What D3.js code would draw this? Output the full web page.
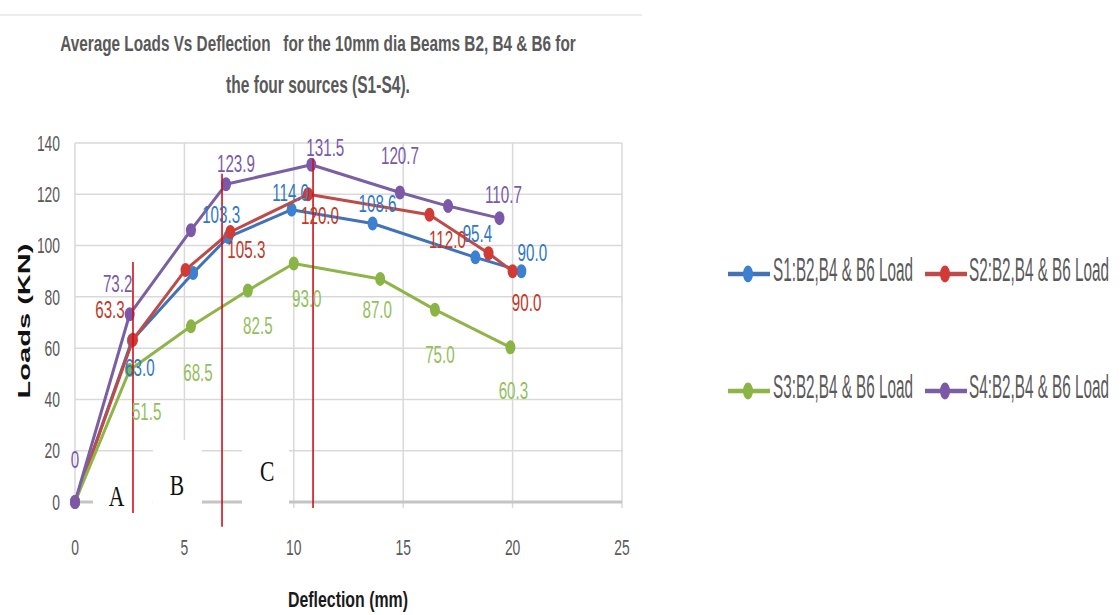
<!DOCTYPE html>
<html><head><meta charset="utf-8">
<script src="https://cdn.jsdelivr.net/npm/d3@7"></script>
<style>body{margin:0;background:#fff} svg{display:block}</style>
</head><body><svg id="c" width="1120" height="615"></svg>
<script>
// ---------- data ----------
const titleLines = ["Average Loads Vs Deflection   for the 10mm dia Beams B2, B4 & B6 for", "the four sources (S1-S4)."];
const xAxisTitle = "Deflection (mm)";
const yAxisTitle = "Loads (KN)";
const xTicks = [0, 5, 10, 15, 20, 25];
const yTicks = [0, 20, 40, 60, 80, 100, 120, 140];
const seriesNames = ["S1:B2,B4 & B6 Load", "S2:B2,B4 & B6 Load", "S3:B2,B4 & B6 Load", "S4:B2,B4 & B6 Load"];

const s1Deflection = [0, 2.6, 5.4, 7.0, 9.9, 13.6, 18.3, 20.4];
const s1Load       = [0, 63.0, 89.3, 103.3, 114.0, 108.6, 95.4, 90.0];
const s1Labels     = [null, "63.0", null, "103.3", "114.0", "108.6", "95.4", "90.0"];

const s2Deflection = [0, 2.65, 5.05, 7.1, 10.65, 16.2, 18.9, 20.0];
const s2Load       = [0, 63.3, 90.5, 105.3, 120.0, 112.0, 97.0, 90.0];
const s2Labels     = [null, "63.3", null, "105.3", "120.0", "112.0", null, "90.0"];

const s3Deflection = [0, 2.5, 5.3, 7.9, 10.0, 13.95, 16.45, 19.9];
const s3Load       = [0, 51.5, 68.5, 82.5, 93.0, 87.0, 75.0, 60.3];
const s3Labels     = [null, "51.5", "68.5", "82.5", "93.0", "87.0", "75.0", "60.3"];

const s4Deflection = [0, 2.5, 5.3, 6.9, 10.8, 14.85, 17.05, 19.4];
const s4Load       = [0, 73.2, 106.0, 123.9, 131.5, 120.7, 115.4, 110.7];
const s4Labels     = ["0", "73.2", null, "123.9", "131.5", "120.7", null, "110.7"];

// annotations: stage boundaries and region letters
const boundaryDeflection = [2.65, 6.72, 10.88];
const boundaryTop        = [93.6, 128, 134];
const boundaryBottom     = [-4.3, -9.7, -2.3];
const regionLetters      = ["A", "B", "C"];
const regionDeflection   = [1.9, 4.66, 8.78];
const regionLoad         = [-1.6, 2.7, 8.2];

// ---------- layout / style ----------
const labelOffsets = [
  [null, [8, 27], null, [-7, -22], [-1, -17], [5, -20], [2, -24], [11, -18]],
  [null, [-23, -30], null, [16, 18], [12, 21], [18, 25], null, [14, 32]],
  [null, [17, 42], [7, 46], [10, 35], [13, 35], [-3, 31], [5, 45], [3, 43]],
  [[0, -42], [-12, -31], null, [10, -21], [14, -17], [0, -37], null, [4, -23]]
];
const lineColors   = ["#4173b6", "#be4b48", "#8fb44a", "#7b5fa3"];
const markerColors = ["#3d7fd0", "#d03b35", "#8ab446", "#7c58a8"];
const labelColors  = ["#2f78c4", "#c0392b", "#93c05c", "#7a5aa8"];

const svg = d3.select("#c");
const x = d3.scaleLinear().domain([0, 25]).range([75, 622]);
const y = d3.scaleLinear().domain([0, 140]).range([502, 143]);

// draw text squeezed horizontally to a target width via transform
function fitText(px, py, str, width, anchor, attrs) {
  const t = svg.append("text").attr("text-anchor", anchor).style("white-space", "pre");
  Object.entries(attrs).forEach(([k, v]) => t.attr(k, v));
  t.text(str);
  const w = t.node().getComputedTextLength();
  t.attr("transform", `translate(${px},${py}) scale(${width / w},1)`);
  return t;
}

// faint top rule
svg.append("line").attr("x1", 0).attr("x2", 642).attr("y1", 15).attr("y2", 15)
  .attr("stroke", "#ececec").attr("stroke-width", 2);

// title
titleLines.forEach((t, i) => {
  fitText(318, i === 0 ? 51 : 93, t, i === 0 ? 516 : 184, "middle", {
    "font-family": "Liberation Sans, Arial, sans-serif", "font-weight": "bold",
    "font-size": 23, "fill": "#595959" });
});

// gridlines
const grid = svg.append("g");
grid.selectAll("line.h").data(yTicks.filter(d => d > 0)).join("line")
  .attr("x1", x(0)).attr("x2", x(25)).attr("y1", d => y(d)).attr("y2", d => y(d))
  .attr("stroke", "#d9d9d9").attr("stroke-width", 1.5);
grid.selectAll("line.v").data(xTicks).join("line")
  .attr("x1", d => x(d)).attr("x2", d => x(d)).attr("y1", y(140)).attr("y2", y(0) + 6)
  .attr("stroke", "#d9d9d9").attr("stroke-width", 1.5);
grid.append("line").attr("x1", x(0)).attr("x2", x(25)).attr("y1", y(0)).attr("y2", y(0))
  .attr("stroke", "#c4c4c4").attr("stroke-width", 3);

// white boxes behind region letters (cover gridlines)
const boxX0 = [0.82, 3.56, 7.63], boxX1 = [3.56, 5.8, 9.78], boxTop = [16.4, 24.2, 24.2];
regionLetters.forEach((l, i) => {
  svg.append("rect").attr("x", x(boxX0[i])).attr("width", x(boxX1[i]) - x(boxX0[i]))
    .attr("y", y(boxTop[i])).attr("height", y(-8) - y(boxTop[i])).attr("fill", "#fff");
});

// axis tick labels
const tickFont = "Liberation Sans, Arial, sans-serif";
yTicks.forEach(t => {
  svg.append("text").attr("transform", `translate(60,${y(t)}) scale(0.63,1)`)
    .attr("text-anchor", "end").attr("dominant-baseline", "central")
    .attr("font-family", tickFont).attr("font-size", 22).attr("fill", "#595959").text(t);
});
xTicks.forEach(t => {
  svg.append("text").attr("transform", `translate(${x(t)},547) scale(0.63,1)`)
    .attr("text-anchor", "middle").attr("dominant-baseline", "central")
    .attr("font-family", tickFont).attr("font-size", 22).attr("fill", "#595959").text(t);
});

// axis titles
fitText(348, 607, xAxisTitle, 120, "middle", {
  "font-family": "Liberation Sans, Arial, sans-serif", "font-weight": "bold",
  "font-size": 22, "fill": "#1a1a1a" });
svg.append("text").attr("transform", "translate(30,321) rotate(-90)").attr("text-anchor", "middle")
  .attr("font-family", "Liberation Sans, Arial, sans-serif").attr("font-weight", "bold")
  .attr("font-size", 17).attr("fill", "#111")
  .attr("textLength", 155).attr("lengthAdjust", "spacingAndGlyphs").text(yAxisTitle);

// series
const series = [
  { dx: s1Deflection, ld: s1Load, lab: s1Labels },
  { dx: s2Deflection, ld: s2Load, lab: s2Labels },
  { dx: s3Deflection, ld: s3Load, lab: s3Labels },
  { dx: s4Deflection, ld: s4Load, lab: s4Labels }
];
const line = d3.line().x(d => x(d[0])).y(d => y(d[1]));
series.forEach((s, i) => {
  const pts = s.dx.map((d, j) => [d, s.ld[j]]);
  svg.append("path").attr("d", line(pts)).attr("fill", "none")
    .attr("stroke", lineColors[i]).attr("stroke-width", 3).attr("stroke-linejoin", "round");
  svg.append("g").selectAll("ellipse").data(pts).join("ellipse")
    .attr("cx", d => x(d[0])).attr("cy", d => y(d[1])).attr("rx", 5).attr("ry", 7)
    .attr("fill", markerColors[i]);
});

// region boundary lines + letters
boundaryDeflection.forEach((b, i) => {
  svg.append("line").attr("x1", x(b)).attr("x2", x(b))
    .attr("y1", y(boundaryTop[i])).attr("y2", y(boundaryBottom[i]))
    .attr("stroke", "#d0101a").attr("stroke-width", 1.6);
});
regionLetters.forEach((l, i) => {
  svg.append("text").attr("transform", `translate(${x(regionDeflection[i])},${y(regionLoad[i])}) scale(0.72,1)`)
    .attr("text-anchor", "middle").attr("font-family", "Liberation Serif, Times New Roman, serif")
    .attr("font-size", 30).attr("fill", "#111").text(l);
});

// data labels
series.forEach((s, i) => {
  s.lab.forEach((t, j) => {
    if (t === null) return;
    const o = labelOffsets[i][j];
    svg.append("text")
      .attr("transform", `translate(${x(s.dx[j]) + o[0]},${y(s.ld[j]) + o[1]}) scale(0.66,1)`)
      .attr("text-anchor", "middle").attr("dominant-baseline", "central")
      .attr("font-family", tickFont).attr("font-size", 23).attr("fill", labelColors[i]).text(t);
  });
});

// legend
const legX = [728, 925], legTextX = [773, 969], legY = [274, 391];
seriesNames.forEach((n, i) => {
  const c = i % 2, r = Math.floor(i / 2);
  svg.append("line").attr("x1", legX[c]).attr("x2", legX[c] + 42).attr("y1", legY[r]).attr("y2", legY[r])
    .attr("stroke", lineColors[i]).attr("stroke-width", 4.5);
  svg.append("ellipse").attr("cx", legX[c] + 20).attr("cy", legY[r]).attr("rx", 5).attr("ry", 8.5)
    .attr("fill", markerColors[i]);
  fitText(legTextX[c], legY[r] + 7, n, 140, "start", {
    "font-family": "Liberation Sans, Arial, sans-serif", "font-size": 34, "fill": "#595959" });
});
</script></body></html>
